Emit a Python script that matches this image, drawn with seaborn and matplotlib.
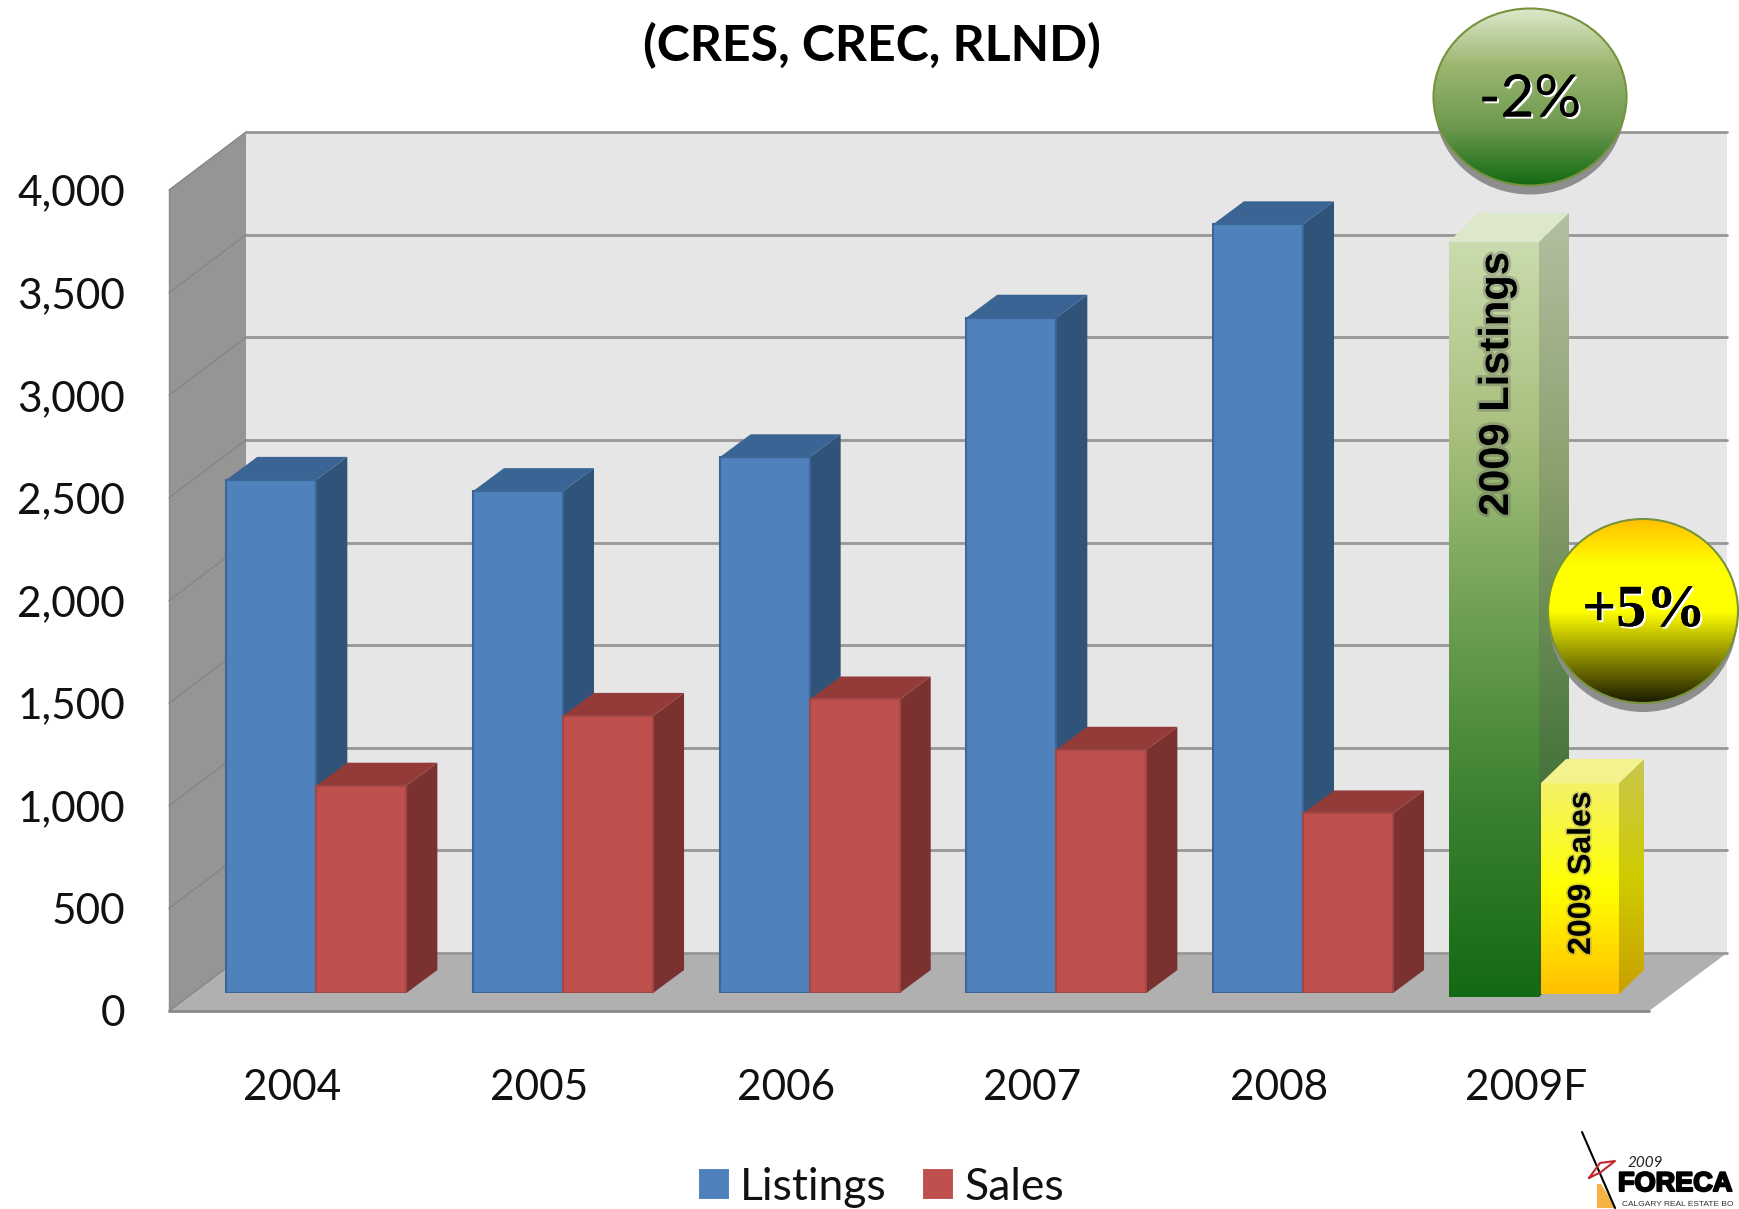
import numpy as np
import pandas as pd
import seaborn as sns
import matplotlib
matplotlib.use('Agg')
import matplotlib.pyplot as plt
import matplotlib.patheffects as pe
from matplotlib.colors import LinearSegmentedColormap
from matplotlib.patches import Polygon, Ellipse
from matplotlib.transforms import IdentityTransform, ScaledTranslation

# values
years = ['2004', '2005', '2006', '2007', '2008', '2009F']
listings = [2500, 2445, 2610, 3290, 3745, 3660]
sales = [1010, 1350, 1430, 1185, 875, 1023]
y_ticks = [0, 500, 1000, 1500, 2000, 2500, 3000, 3500, 4000]
y_labels = ['0', '500', '1,000', '1,500', '2,000', '2,500', '3,000', '3,500', '4,000']

W, H = 1739, 1209
DEPTH = (31, 23)  # bar depth in pixels


def P(x, y):
    # picture pixels (y down) to display pixels (y up)
    return (x, H - y)


sns.set_theme(style='white')
plt.rcParams['font.family'] = ['Lato', 'DejaVu Sans']

df = pd.DataFrame({
    'year': years * 2,
    'value': listings + sales,
    'series': ['Listings'] * len(years) + ['Sales'] * len(years),
})

fig = plt.figure(figsize=(W / 100, H / 100), dpi=100, facecolor='white')
# the axes sit on the plane of the bar fronts
ax = fig.add_axes([193 / W, (H - 993) / H, 1480 / W, 821 / H])
ax.patch.set_visible(False)

sns.barplot(data=df, x='year', y='value', hue='series', hue_order=['Listings', 'Sales'],
            palette={'Listings': '#4f81bd', 'Sales': '#c0504d'}, saturation=1,
            width=0.73, gap=0, ax=ax, legend=True, linewidth=1.5)
ax.set_xlim(-0.5, 5.5)
ax.set_ylim(0, 4000)
sns.despine(ax=ax, left=True, bottom=True)
ax.set_xlabel('')
ax.set_ylabel('')
ax.set_yticks(y_ticks)
ax.set_yticklabels(y_labels)
ax.tick_params(axis='both', length=0, labelsize=30.5, colors='#111111')
ax.tick_params(axis='y', pad=49)
ax.tick_params(axis='x', pad=55)

# tick labels belong to the front edge of the box, not to the bar plane
for lab in ax.get_yticklabels():
    lab.set_transform(lab.get_transform() + ScaledTranslation(0, -18 / 100, fig.dpi_scale_trans))
for lab in ax.get_xticklabels():
    lab.set_transform(lab.get_transform() + ScaledTranslation(-24 / 100, 0, fig.dpi_scale_trans))


def poly(pts, color, z, edge=None, lw=1):
    p = Polygon(pts, closed=True, facecolor=color, edgecolor=edge or 'none', linewidth=lw,
                transform=IdentityTransform(), zorder=z, clip_on=False)
    ax.add_patch(p)
    return p


def fill_gradient(patch, colors, z):
    # imshow clipped to the patch, colours run top to bottom
    bb = patch.get_path().transformed(patch.get_transform()).get_extents()
    cmap = LinearSegmentedColormap.from_list('grad', colors)
    im = ax.imshow(np.linspace(0, 1, 256)[:, None], cmap=cmap, aspect='auto', origin='upper',
                   extent=(bb.x0, bb.x1, bb.y0, bb.y1), transform=IdentityTransform(), zorder=z)
    im.set_clip_box(fig.bbox)
    im.set_clip_path(patch)
    return im


# walls and floor
poly([P(169, 190), P(246, 132), P(246, 953), P(169, 1011)], '#959595', 0.1)
poly([P(246, 132), P(1727, 132), P(1727, 953), P(246, 953)], '#e6e6e6', 0.1)
poly([P(169, 1011), P(246, 953), P(1727, 953), P(1649, 1011)], '#b0b0b0', 0.2)
for v in y_ticks:
    py = ax.transData.transform((0, v))[1]
    back = py + 40
    ax.plot([246, 1727], [back, back], color='#979797', lw=2, transform=IdentityTransform(),
            zorder=0.3, clip_on=False)
    ax.plot([169, 246], [back - 58, back], color='#858585', lw=1, transform=IdentityTransform(),
            zorder=0.3, clip_on=False)
ax.plot([169, 1649], [H - 1011, H - 1011], color='#8a8a8a', lw=2, transform=IdentityTransform(),
        zorder=0.4, clip_on=False)
ax.plot([169, 169], [H - 1011, H - 190], color='#8a8a8a', lw=1, transform=IdentityTransform(),
        zorder=0.4, clip_on=False)


def corners(bar):
    (x0, y0), (x1, y1) = ax.transData.transform([(bar.get_x(), bar.get_y()),
                                                 (bar.get_x() + bar.get_width(), bar.get_y() + bar.get_height())])
    return x0, y0, x1, y1


def side_pts(bar, dx, dy):
    x0, y0, x1, y1 = corners(bar)
    return [(x1, y0), (x1 + dx, y0 + dy), (x1 + dx, y1 + dy), (x1, y1)]


def top_pts(bar, dx, dy):
    x0, y0, x1, y1 = corners(bar)
    return [(x0, y1), (x0 + dx, y1 + dy), (x1 + dx, y1 + dy), (x1, y1)]


# 3d sides of the five plain years
looks = [('#2f5379', '#3a6494', '#3b6696', 2), ('#7b3130', '#933b39', '#a04846', 4)]
for cont, (side, top, edge, z) in zip(ax.containers, looks):
    for bar in list(cont)[:-1]:
        bar.set_edgecolor(edge)
        bar.set_zorder(z + 0.5)
        poly(side_pts(bar, *DEPTH), side, z)
        poly(top_pts(bar, *DEPTH), top, z)

# the 2009 forecast boxes are drawn over the chart with their own size and gradients
k = 4000 / 821  # data units per pixel
cat_w = 1480 / 6
bar_list = list(ax.containers[0])[-1]
bar_sale = list(ax.containers[1])[-1]
for bar, x_px, w_px, drop in [(bar_list, 1449, 90, 4), (bar_sale, 1541, 78, 1)]:
    bar.set_x((x_px - 193) / cat_w - 0.5)
    bar.set_width(w_px / cat_w)
    bar.set_y(-drop * k)
    bar.set_height(bar.get_height() + drop * k)
    bar.set_facecolor('none')
    bar.set_edgecolor('none')

x0, y0, x1, y1 = corners(bar_list)
lst_front = poly([(x0, y0), (x1, y0), (x1, y1), (x0, y1)], 'none', 2)
fill_gradient(lst_front, ['#cadcad', '#a9c07f', '#6d9f52', '#3a8030', '#146a14'], 2)
fill_gradient(poly(side_pts(bar_list, 30, 29), 'none', 2),
              ['#b3c0a2', '#8ba06e', '#4f7a42', '#245a20'], 2)
poly(top_pts(bar_list, 30, 29), '#dce8c9', 2)

x0, y0, x1, y1 = corners(bar_sale)
sale_front = poly([(x0, y0), (x1, y0), (x1, y1), (x0, y1)], 'none', 4)
fill_gradient(sale_front, ['#f5f268', '#ffff00', '#ffc000'], 4)
fill_gradient(poly(side_pts(bar_sale, 25, 24), 'none', 4), ['#c9c650', '#cfcc00', '#c9a000'], 4)
poly(top_pts(bar_sale, 25, 24), '#f4f28c', 4)

glow = [pe.withStroke(linewidth=4, foreground='#555555', alpha=0.3)]
ax.text(1497, H - 384, '2009 Listings', rotation=90, ha='center', va='center', fontsize=30,
        family='Liberation Sans', weight='bold', color='black', transform=IdentityTransform(),
        zorder=6, path_effects=glow)
ax.text(1582, H - 873, '2009 Sales', rotation=90, ha='center', va='center', fontsize=23,
        family='Liberation Sans', weight='bold', color='black', transform=IdentityTransform(),
        zorder=6, path_effects=[pe.withStroke(linewidth=2.5, foreground='#777777', alpha=0.3)])

# percentage bubbles
shadow = {'facecolor': '#8e8e8e', 'edgecolor': 'none', 'transform': IdentityTransform(), 'clip_on': False}
ax.add_patch(Ellipse(P(1530, 106), 190, 177, zorder=7, **shadow))
green = Ellipse(P(1530, 97), 193, 177, facecolor='none', edgecolor='#76923c', linewidth=1.5,
                transform=IdentityTransform(), zorder=8.5, clip_on=False)
ax.add_patch(green)
fill_gradient(green, ['#dde9cb', '#9ab56e', '#6e9a50', '#146a14'], 8)

ax.add_patch(Ellipse(P(1643, 620), 188, 184, zorder=7, **shadow))
yellow = Ellipse(P(1643, 611), 190, 184, facecolor='none', edgecolor='#76923c', linewidth=1.5,
                 transform=IdentityTransform(), zorder=8.5, clip_on=False)
ax.add_patch(yellow)
fill_gradient(yellow, ['#ffc000', '#ffff00', '#ffff00', '#8c8c00', '#1a1a00'], 8)

white_edge = [pe.withSimplePatchShadow(offset=(1.5, -1.5), shadow_rgbFace='white', alpha=1), pe.Normal()]
ax.text(1530, H - 100, '-2%', ha='center', va='center', fontsize=42, color='black',
        transform=IdentityTransform(), zorder=9, path_effects=white_edge)
ax.text(1644, H - 612, '+5%', ha='center', va='center', fontsize=43, family='Liberation Serif',
        weight='bold', color='black', transform=IdentityTransform(), zorder=9, path_effects=white_edge)

# title: the first line is cut off by the top of the picture
fig.text(872 / W, 1 - 46 / H, '(CRES, CREC, RLND)', ha='center', va='center', fontsize=36,
         fontweight='bold', color='black')

# legend
handles, labels = ax.get_legend_handles_labels()
leg = ax.legend(handles, labels, loc='center', bbox_to_anchor=(881 / W, 1 - 1187 / H),
                bbox_transform=fig.transFigure, ncol=2, frameon=False, fontsize=32,
                handlelength=0.72, handleheight=0.72, handletextpad=0.22, columnspacing=0.8,
                borderpad=0, labelcolor='#111111')

# logo in the corner, cut by the picture edge as in the source
poly([P(1597, 1184), P(1601, 1184), P(1616, 1208), P(1597, 1208)], '#f5b342', 8)
ax.plot([1582, 1615], [H - 1132, H - 1208], color='black', lw=1.5, transform=IdentityTransform(),
        zorder=9, clip_on=False)
ax.plot([1589, 1600, 1615, 1601, 1589], [H - 1178, H - 1163, H - 1161, H - 1172, H - 1178],
        color='#c0272d', lw=1.5, transform=IdentityTransform(), zorder=9, clip_on=False)
ax.text(1628, H - 1163, '2009', fontsize=11, style='italic', color='#222222',
        transform=IdentityTransform(), zorder=9, va='center')
ax.text(1618, H - 1184, 'FORECA', fontsize=19.5, family='Liberation Sans',
        weight='bold', color='black', transform=IdentityTransform(), zorder=9, va='center',
        path_effects=[pe.withStroke(linewidth=1.5, foreground='black')])
ax.text(1622, H - 1204, 'CALGARY REAL ESTATE BO', fontsize=6, family='Liberation Sans', color='#333333',
        transform=IdentityTransform(), zorder=9, va='center')

fig.savefig('out.png', dpi=100, facecolor='white')
